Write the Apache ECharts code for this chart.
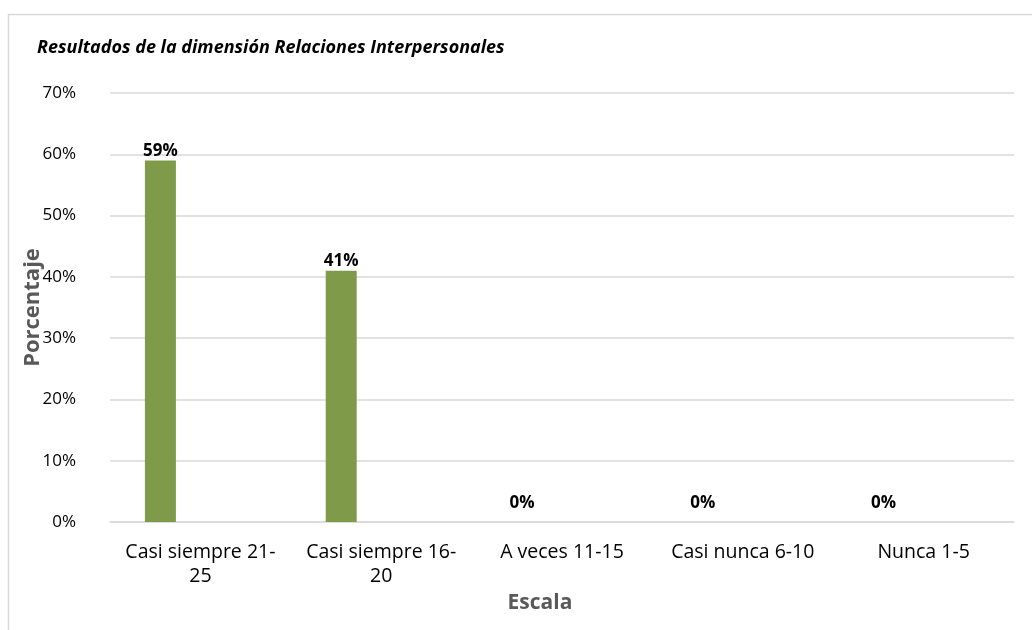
<!DOCTYPE html>
<html>
<head>
<meta charset="utf-8">
<script src="https://cdn.jsdelivr.net/npm/echarts@6/dist/echarts.min.js"></script>
<style>
  html, body { margin: 0; padding: 0; background: #fff; }
  #grafico { width: 1032px; height: 630px; }
</style>
</head>
<body>
<div id="grafico"></div>
<script>
// Datos del gráfico
var categorias = ['Casi siempre 21-25', 'Casi siempre 16-20', 'A veces 11-15', 'Casi nunca 6-10', 'Nunca 1-5'];
var porcentajes = [59, 41, 0, 0, 0];
var vacia = ['-', '-', '-', '-', '-'];  // segunda serie vacía (Excel deja su hueco)
var ticksY = [0, 10, 20, 30, 40, 50, 60, 70];

var fuente = "'Open Sans', sans-serif";
var myChart = echarts.init(document.getElementById('grafico'));

var option = {
    animation: false,
    textStyle: { fontFamily: fuente },
    title: {
        text: 'Resultados de la dimensión Relaciones Interpersonales',
        left: 32,
        top: 34,
        textStyle: { fontSize: 18, fontWeight: 'bold', fontStyle: 'italic', color: '#000' }
    },
    graphic: [{
        type: 'rect',
        shape: { x: 8.5, y: 14.5, width: 1100, height: 700 },
        style: { fill: 'none', stroke: '#d9d9d9', lineWidth: 1.5 },
        z: -1
    }],
    grid: { left: 110, right: 18, top: 93, bottom: 108 },
    xAxis: {
        type: 'category',
        data: categorias,
        name: 'Escala',
        nameLocation: 'middle',
        nameGap: 71,
        nameMoveOverlap: false,
        nameTextStyle: { fontSize: 21, fontWeight: 'bold', color: '#595959', padding: [0, 44, 0, 0] },
        axisLine: { lineStyle: { color: '#d9d9d9', width: 1.5 } },
        axisTick: { length: 7, lineStyle: { color: '#d9d9d9', width: 1.5 } },
        axisLabel: {
            interval: 0,
            hideOverlap: false,
            fontSize: 19.5,
            color: '#000',
            margin: 18,
            lineHeight: 24,
            formatter: function (v) { return v.length > 15 ? v.replace(/(\d+-)/, '$1\n') : v; }
        }
    },
    yAxis: {
        type: 'value',
        min: ticksY[0],
        max: ticksY[ticksY.length - 1],
        interval: 10,
        name: 'Porcentaje',
        nameLocation: 'middle',
        nameGap: 66,
        nameMoveOverlap: false,
        nameTextStyle: { fontSize: 22, fontWeight: 'bold', color: '#595959' },
        axisLine: { show: false },
        axisTick: { show: false },
        axisLabel: { fontSize: 17, color: '#000', margin: 34, formatter: '{value}%' },
        splitLine: { lineStyle: { color: '#d9d9d9', width: 1.5 } }
    },
    series: [{
        name: 'Porcentaje',
        type: 'bar',
        barWidth: 31,
        barGap: '158%',
        itemStyle: { color: '#7f9b4a' },
        label: {
            show: true,
            position: 'top',
            distance: 1,
            fontSize: 17,
            fontWeight: 'bold',
            color: '#000',
            formatter: '{c}%'
        },
        data: porcentajes.map(function (v) {
            return v === 0 ? { value: v, label: { distance: 10 } } : v;
        })
    }, {
        name: 'vacia',
        type: 'bar',
        barWidth: 31,
        data: vacia
    }]
};

myChart.setOption(option);
</script>
</body>
</html>
